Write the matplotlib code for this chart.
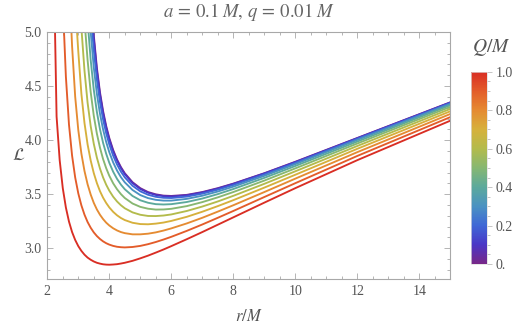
import matplotlib
matplotlib.use("Agg")
import matplotlib.pyplot as plt
from matplotlib.colors import LinearSegmentedColormap, Normalize
from matplotlib.cm import ScalarMappable
from matplotlib.ticker import MultipleLocator, FixedLocator

# ---- data ----
Q_VALUES = [0.0, 0.1, 0.2, 0.3, 0.4, 0.5, 0.6, 0.7, 0.8, 0.9, 1.0]

# r/M where each curve leaves the top of the frame (L = 5.0)
L_TOP = 5.0
R_TOP = [3.49, 3.48, 3.45, 3.40, 3.33, 3.23, 3.11, 2.96, 2.78, 2.54, 2.25]

R_GRID = [2.3, 2.4, 2.5, 2.6, 2.7, 2.8, 2.9, 3.0, 3.1, 3.2, 3.3, 3.4, 3.5,
          3.6, 3.7, 3.8, 3.9,
          4.0, 4.125, 4.25, 4.375, 4.5, 4.75, 5.0, 5.25, 5.5, 5.75, 6.0,
          6.5, 7.0, 7.5, 8.0, 9.0, 10.0, 12.0, 15.0]

N = None
L_Q00 = [N, N, N, N, N, N, N, N, N, N, N, N, N,
         4.668, 4.442, 4.269, 4.131,
         4.020, 3.909, 3.821, 3.751, 3.694, 3.611, 3.556, 3.520, 3.499,
         3.487, 3.484, 3.494, 3.520, 3.556, 3.598, 3.694, 3.800, 4.020, 4.350]
L_Q01 = [N, N, N, N, N, N, N, N, N, N, N, N, 4.935,
         4.640, 4.419, 4.249, 4.114,
         4.005, 3.896, 3.810, 3.741, 3.685, 3.603, 3.548, 3.514, 3.493,
         3.482, 3.479, 3.490, 3.516, 3.552, 3.595, 3.692, 3.797, 4.018, 4.348]
L_Q02 = [N, N, N, N, N, N, N, N, N, N, N, N, 4.833,
         4.558, 4.352, 4.192, 4.064,
         3.961, 3.857, 3.775, 3.709, 3.656, 3.578, 3.527, 3.495, 3.476,
         3.467, 3.465, 3.478, 3.505, 3.542, 3.585, 3.683, 3.790, 4.012, 4.343]
L_Q03 = [N, N, N, N, N, N, N, N, N, N, N, N, 4.672,
         4.429, 4.244, 4.099, 3.983,
         3.889, 3.794, 3.719, 3.658, 3.610, 3.539, 3.492, 3.464, 3.448,
         3.441, 3.441, 3.457, 3.486, 3.525, 3.570, 3.670, 3.778, 4.002, 4.335]
L_Q04 = [N, N, N, N, N, N, N, N, N, N, N, 4.742, 4.466,
         4.260, 4.101, 3.975, 3.874,
         3.791, 3.708, 3.642, 3.589, 3.546, 3.484, 3.444, 3.421, 3.408,
         3.405, 3.408, 3.428, 3.460, 3.501, 3.548, 3.651, 3.761, 3.987, 4.323]
L_Q05 = [N, N, N, N, N, N, N, N, N, N, 4.741, 4.445, 4.226,
         4.060, 3.930, 3.825, 3.741,
         3.671, 3.601, 3.546, 3.501, 3.465, 3.414, 3.383, 3.366, 3.358,
         3.359, 3.365, 3.390, 3.427, 3.471, 3.520, 3.626, 3.739, 3.969, 4.308]
L_Q06 = [N, N, N, N, N, N, N, N, N, 4.644, 4.347, 4.130, 3.966,
         3.838, 3.737, 3.655, 3.588,
         3.533, 3.477, 3.433, 3.398, 3.370, 3.332, 3.310, 3.299, 3.298,
         3.303, 3.313, 3.345, 3.386, 3.433, 3.485, 3.596, 3.712, 3.946, 4.289]
L_Q07 = [N, N, N, N, N, N, N, 4.821, 4.429, 4.159, 3.961, 3.812, 3.695,
         3.603, 3.528, 3.468, 3.419,
         3.378, 3.337, 3.305, 3.280, 3.261, 3.236, 3.224, 3.222, 3.228,
         3.238, 3.253, 3.291, 3.338, 3.390, 3.445, 3.561, 3.680, 3.920, 4.267]
L_Q08 = [N, N, N, N, N, 4.870, 4.402, 4.094, 3.876, 3.715, 3.592, 3.497,
         3.420, 3.359, 3.310, 3.270, 3.237,
         3.211, 3.185, 3.165, 3.150, 3.140, 3.129, 3.129, 3.135, 3.147,
         3.164, 3.184, 3.230, 3.282, 3.339, 3.398, 3.520, 3.644, 3.889, 4.242]
L_Q09 = [N, N, N, 4.588, 4.144, 3.857, 3.655, 3.508, 3.397, 3.311, 3.243,
         3.190, 3.147, 3.113, 3.086, 3.064, 3.047,
         3.034, 3.022, 3.014, 3.010, 3.008, 3.012, 3.022, 3.038, 3.058,
         3.081, 3.106, 3.161, 3.220, 3.282, 3.345, 3.474, 3.602, 3.854, 4.213]
L_Q10 = [4.219, 3.815, 3.556, 3.377, 3.247, 3.150, 3.077, 3.020, 2.976,
         2.941, 2.914, 2.894, 2.878, 2.866, 2.858, 2.852, 2.849,
         2.848, 2.850, 2.853, 2.859, 2.866, 2.884, 2.907, 2.932, 2.960,
         2.989, 3.020, 3.084, 3.150, 3.218, 3.286, 3.422, 3.556, 3.815, 4.180]

CURVES = [L_Q00, L_Q01, L_Q02, L_Q03, L_Q04, L_Q05, L_Q06, L_Q07, L_Q08,
          L_Q09, L_Q10]

X_TICKS = [2, 4, 6, 8, 10, 12, 14]
Y_TICKS = [3.0, 3.5, 4.0, 4.5, 5.0]
CB_TICKS = [0.0, 0.2, 0.4, 0.6, 0.8, 1.0]
CB_LABELS = ["0.", "0.2", "0.4", "0.6", "0.8", "1.0"]

# ---- style ----
plt.rcParams["font.family"] = ["Liberation Serif", "DejaVu Serif"]
plt.rcParams["mathtext.fontset"] = "stix"

rainbow = LinearSegmentedColormap.from_list("mma_rainbow", [
    (0.00, "#782888"), (0.10, "#4a36c6"), (0.20, "#3f68d6"),
    (0.30, "#4a92c2"), (0.40, "#5ca99c"), (0.50, "#86b772"),
    (0.60, "#b3bb4c"), (0.70, "#d6b13c"), (0.80, "#e58b32"),
    (0.90, "#e35d2a"), (1.00, "#d92e24")])

FRAME = "#a8a8a8"
LABEL = "#555555"

fig = plt.figure(figsize=(5.23, 3.28), dpi=100)
ax = fig.add_axes([0.0904, 0.1494, 0.7706, 0.7530])

for q, r0, vals in zip(Q_VALUES, R_TOP, CURVES):
    rs = [r0] + [r for r, v in zip(R_GRID, vals) if v is not None]
    ls = [L_TOP] + [v for v in vals if v is not None]
    ax.plot(rs, ls, color=rainbow(q), lw=1.35, solid_joinstyle="round")

ax.set_xlim(2, 15)
ax.set_ylim(2.716, 5.0)
ax.xaxis.set_major_locator(FixedLocator(X_TICKS))
ax.xaxis.set_minor_locator(MultipleLocator(0.5))
ax.yaxis.set_major_locator(FixedLocator(Y_TICKS))
ax.yaxis.set_minor_locator(MultipleLocator(0.1))
ax.set_yticklabels([f"{t:.1f}" for t in Y_TICKS])
ax.tick_params(which="both", direction="in", top=True, right=True,
               color=FRAME, width=0.6, labelsize=10, labelcolor=LABEL)
ax.tick_params(which="major", length=4.0, pad=4)
ax.tick_params(which="minor", length=2.2)
for s in ax.spines.values():
    s.set_color(FRAME)
    s.set_linewidth(0.8)

ax.set_xlabel(r"$r/M$", fontsize=12, color=LABEL, labelpad=8)
ax.set_ylabel(r"$\mathcal{L}$", fontsize=12.5, color=LABEL, rotation=0,
              labelpad=4, va="center")
fig.text(0.476, 0.962, r"$a\,=\,0.1\;M,\,q\,=\,0.01\;M$", fontsize=13.5,
         color="#666666", ha="center", va="center")

# colour legend
cax = fig.add_axes([0.9006, 0.195, 0.030, 0.586])
cb = fig.colorbar(ScalarMappable(norm=Normalize(0, 1), cmap=rainbow),
                  cax=cax)
cb.set_ticks(CB_TICKS)
cb.set_ticklabels(CB_LABELS)
cb.ax.yaxis.set_minor_locator(MultipleLocator(0.05))
cb.ax.tick_params(which="both", direction="out", color="#bbbbbb",
                  width=0.6, labelsize=10, labelcolor=LABEL)
cb.ax.tick_params(which="major", length=3.5, pad=3)
cb.ax.tick_params(which="minor", length=2)
cb.outline.set_edgecolor("#dddddd")
cb.outline.set_linewidth(0.5)
fig.text(0.939, 0.855, r"$Q/M$", fontsize=14, color=LABEL,
         ha="center", va="center")

fig.savefig("out.png", dpi=100)
